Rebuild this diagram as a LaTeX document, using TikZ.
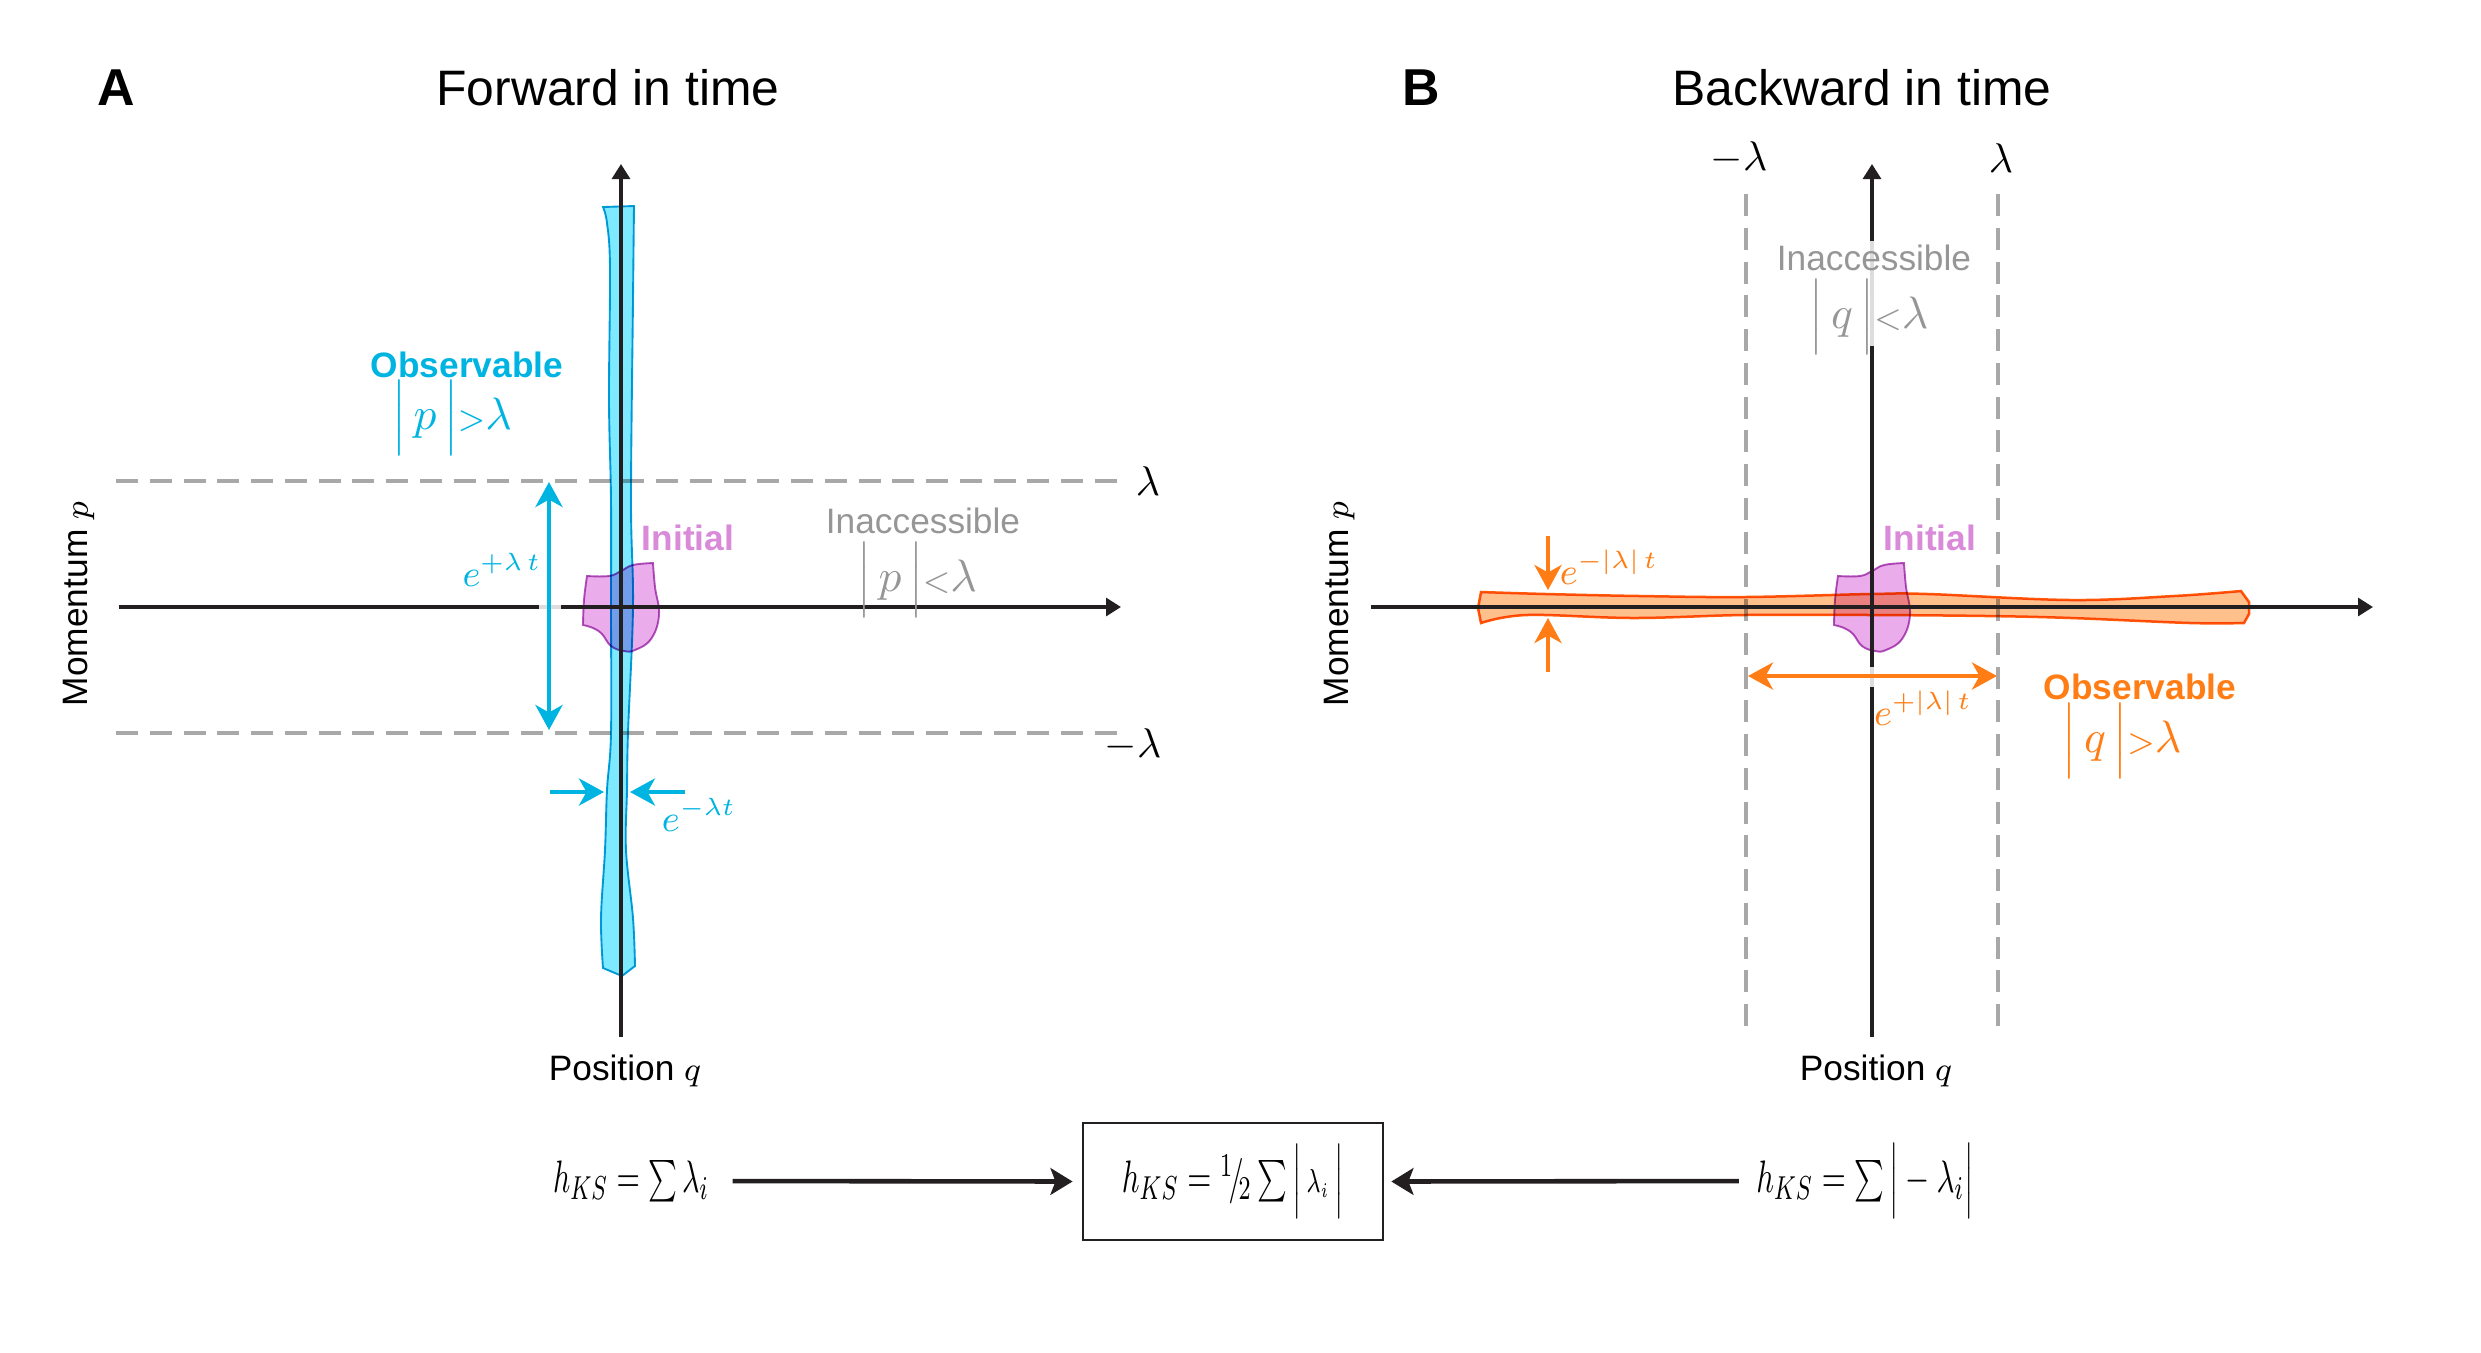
\documentclass[tikz,border=0pt]{standalone}
\usepackage{fontspec}
\setmainfont{Liberation Sans}
\usepackage{graphicx}
\usetikzlibrary{arrows.meta}
\definecolor{cyanT}{RGB}{0,180,226}
\definecolor{cyanF}{RGB}{125,234,255}
\definecolor{cyanE}{RGB}{0,160,215}
\definecolor{pinkT}{RGB}{217,138,217}
\definecolor{pinkF}{RGB}{234,172,234}
\definecolor{pinkE}{RGB}{180,85,190}
\definecolor{orT}{RGB}{255,125,20}
\definecolor{orF}{RGB}{255,192,140}
\definecolor{orE}{RGB}{255,90,10}
\definecolor{grT}{RGB}{150,150,150}
\definecolor{grD}{RGB}{168,168,168}
\definecolor{axisC}{RGB}{35,31,32}
\newcommand\absv[1]{\Big|\,#1\,\Big|}
\tikzset{
  blobpic/.pic={
    \path[fill=pinkF, draw=pinkE, line width=0.45bp]
      (-34,-31) -- plot[smooth, tension=0.7] coordinates {(-34,-31) (-12,-31) (0,-36) (12,-42) (32,-44)}
      -- plot[smooth, tension=0.7] coordinates {(32,-44) (34,-20) (38,8) (30,32) (14,43) (3,44) (-10,39) (-19,27) (-28,21) (-38,18)}
      -- plot[smooth, tension=0.7] coordinates {(-38,18) (-37,-7) (-34,-31)} -- cycle;
  }
}
\begin{document}
\begin{tikzpicture}[x=0.24bp,y=-0.24bp,
  axisln/.style={draw=axisC, line width=0.8bp, -{Triangle[length=3.6bp,width=4.3bp]}},
  dashln/.style={draw=grD, line width=0.8bp, dash pattern=on 5.3bp off 2.8bp},
  cyarr/.style={draw=cyanT, line width=1bp, -{Stealth[length=6bp,width=6.5bp,inset=1.8bp]}},
  cydbl/.style={draw=cyanT, line width=1bp, {Stealth[length=6bp,width=6.5bp,inset=1.8bp]}-{Stealth[length=6bp,width=6.5bp,inset=1.8bp]}},
  orarr/.style={draw=orT, line width=1bp, -{Stealth[length=6bp,width=6.5bp,inset=1.8bp]}},
  ordbl/.style={draw=orT, line width=1bp, {Stealth[length=6bp,width=6.5bp,inset=1.8bp]}-{Stealth[length=6bp,width=6.5bp,inset=1.8bp]}},
  blkarr/.style={draw=axisC, line width=1.1bp, -{Stealth[length=5.3bp,width=6.4bp,inset=1.2bp]}},
  knock/.style={fill=white, fill opacity=0.85},
  panel/.style={font=\bfseries\fontsize{12.5}{14}\selectfont, anchor=base, inner sep=0pt},
  ttl/.style={font=\fontsize{12}{14}\selectfont, anchor=base, inner sep=0pt},
  lbl/.style={font=\fontsize{8.5}{10}\selectfont, anchor=base, inner sep=0pt},
  lblb/.style={font=\bfseries\fontsize{8.5}{10}\selectfont, anchor=base, inner sep=0pt},
  mth/.style={font=\fontsize{11}{13}\selectfont, inner sep=0pt},
  emth/.style={font=\fontsize{8.7}{10}\selectfont, inner sep=0pt},
  lmth/.style={font=\fontsize{10}{12}\selectfont, inner sep=0pt},
  fmla/.style={font=\fontsize{11}{13}\selectfont, inner sep=0pt},
  ]
\useasboundingbox (0,0) rectangle (2481,1352);

% ---------- Panel A ----------
\node[panel] (pA) at (116,105) {A};
\node[ttl] (tA) at (608,105) {Forward in time};

\draw[dashln] (116,481) -- (1119,481);
\draw[dashln] (116,733) -- (1119,733);

\begin{scope}[blend mode=multiply]
\path[fill=cyanF, draw=cyanE, line width=0.45bp]
  (603,207) -- (634,206)
  -- plot[smooth, tension=0.6] coordinates {(634,206) (633,300) (631,500) (633,607) (628,733) (627,790) (626,850) (633,918) (635,966)}
  -- (622,976) -- (603,968)
  -- plot[smooth, tension=0.6] coordinates {(603,968) (601,918) (605,850) (607,790) (611,733) (611,607) (611,500) (609,400) (610,268) (607,223) (603,207)}
  -- cycle;
\pic at (621,607) {blobpic};
\end{scope}

\draw[axisln] (119,607) -- (1121,607);
\draw[axisln] (621,1037) -- (621,164);

\fill[knock] (539,603) rectangle (561,611);
\coordinate (vA1) at (549,482);
\coordinate (vA2) at (549,730);
\draw[cydbl] (vA2) -- (vA1);
\coordinate (hA1s) at (550,792);
\coordinate (hA1e) at (604,792);
\coordinate (hA2s) at (685,792);
\coordinate (hA2e) at (630,792);
\draw[cyarr] (hA1s) -- (hA1e);
\draw[cyarr] (hA2s) -- (hA2e);

\node[lblb, text=cyanT] (obsA) at (467,377) {Observable};
\node[mth, text=cyanT] (cA1) at (452,418) {$\absv{p}{\scriptstyle >}\lambda$};
\node[lblb, text=pinkT] (iniA) at (688,550) {Initial};
\node[lbl, text=grT] (inaA) at (923,533) {Inaccessible};
\node[mth, text=grT] (cA2) at (917,580) {$\absv{p}{\scriptstyle <}\lambda$};
\node[emth, text=cyanT] (eA1) at (502,570) {$e^{+\lambda\,t}$};
\node[emth, text=cyanT] (eA2) at (699,815) {$e^{-\lambda t}$};
\node[lmth] (lamA1) at (1148,481) {$\lambda$};
\node[lmth] (lamA2) at (1133,745) {$-\lambda$};
\node[lbl, rotate=90] (momA) at (88,604) {Momentum $p$};
\node[lbl] (posA) at (625,1080) {Position $q$};

% ---------- Panel B ----------
\node[panel] (pB) at (1421,105) {B};
\node[ttl] (tB) at (1862,105) {Backward in time};

\draw[dashln] (1746,194) -- (1746,1033);
\draw[dashln] (1998,194) -- (1998,1033);

\begin{scope}[blend mode=multiply]
\path[fill=orF, draw=orE, line width=0.6bp]
  (1481,592)
  -- plot[smooth, tension=0.6] coordinates {(1481,592) (1546,594) (1640,596) (1745,597) (1871,594) (1928,594) (2071,600) (2174,596) (2241,591)}
  -- (2249,602) -- (2249,614) -- (2244,623)
  -- plot[smooth, tension=0.6] coordinates {(2244,623) (2190,623) (2071,618) (1986,616) (1871,615) (1745,615) (1634,618) (1527,615) (1481,623)}
  -- (1478,608) -- cycle;
\pic at (1872,607) {blobpic};
\end{scope}

\draw[axisln] (1371,607) -- (2373,607);
\draw[axisln] (1872,1037) -- (1872,164);

\fill[knock] (1866,241) rectangle (1878,346);
\fill[knock] (1868,667) rectangle (1876,687);

\coordinate (hB1) at (1748,676);
\coordinate (hB2) at (1997,676);
\draw[ordbl] (hB1) -- (hB2);
\coordinate (vB1s) at (1548,536);
\coordinate (vB1e) at (1548,590);
\coordinate (vB2s) at (1548,672);
\coordinate (vB2e) at (1548,618);
\draw[orarr] (vB1s) -- (vB1e);
\draw[orarr] (vB2s) -- (vB2e);

\node[lblb, text=pinkT] (iniB) at (1930,550) {Initial};
\node[lbl, text=grT] (inaB) at (1874,270) {Inaccessible};
\node[mth, text=grT] (cB1) at (1869,317) {$\absv{q}{\scriptstyle <}\lambda$};
\node[lblb, text=orT] (obsB) at (2140,699) {Observable};
\node[mth, text=orT] (cB2) at (2122,741) {$\absv{q}{\scriptstyle >}\lambda$};
\node[emth, text=orT] (eB1) at (1609,567) {$e^{-|\lambda|\,t}$};
\node[emth, text=orT] (eB2) at (1923,708) {$e^{+|\lambda|\,t}$};
\node[lmth] (lamB1) at (1739,158) {$-\lambda$};
\node[lmth] (lamB2) at (2001,158) {$\lambda$};
\node[lbl, rotate=90] (momB) at (1348,604) {Momentum $p$};
\node[lbl] (posB) at (1876,1080) {Position $q$};

% ---------- Bottom row ----------
\node[fmla] (L) at (631,1181) {\scalebox{0.66}[1]{$h_{KS}=\sum\lambda_i$}};
\node[fmla, draw=axisC, line width=0.6bp, minimum width=72bp, minimum height=28bp] (M) at (1233,1181.5)
  {\scalebox{0.68}[1]{$h_{KS}={}^1\!/\!_2\sum\Big|\,{\scriptstyle\lambda_i}\,\Big|$}};
\node[fmla] (R) at (1865,1181) {\scalebox{0.68}[1]{$h_{KS}=\sum\Big|-\lambda_i\Big|$}};
\draw[blkarr, shorten <=5.5bp, shorten >=2.2bp] (L.east) -- (M.west);
\draw[blkarr, shorten <=4bp, shorten >=1.7bp] (R.west) -- (M.east);
\end{tikzpicture}
\end{document}
